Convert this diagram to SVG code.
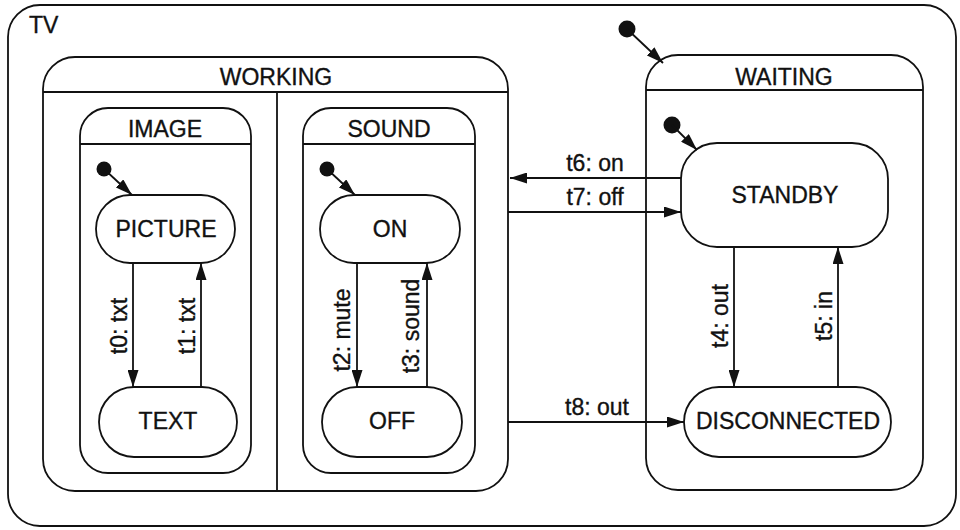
<svg xmlns="http://www.w3.org/2000/svg" width="960" height="530" viewBox="0 0 960 530">
<defs>
<marker id="ah" viewBox="0 0 17 11" refX="17" refY="5.5" markerWidth="17" markerHeight="11" markerUnits="userSpaceOnUse" orient="auto">
<path d="M0,0 L17,5.5 L0,11 Z" fill="#111"/>
</marker>
<style>
.box{fill:none;stroke:#111;stroke-width:1.8}
.ln{fill:none;stroke:#111;stroke-width:1.8}
.ar{fill:none;stroke:#111;stroke-width:1.8;marker-end:url(#ah)}
.dot{fill:#111}
text{font-family:"Liberation Sans",Arial,sans-serif;font-size:23px;fill:#111;stroke:#111;stroke-width:0.35}
.c{text-anchor:middle}
</style>
</defs>
<rect width="960" height="530" fill="#fff"/>
<g id="TV">
<rect class="box" x="8" y="5" width="948" height="521" rx="32"/>
<text x="29" y="33">TV</text>
</g>
<g id="WORKING">
<rect class="box" x="43" y="57" width="465" height="434" rx="32"/>
<line class="ln" x1="43" y1="92" x2="508" y2="92"/>
<line class="ln" x1="277" y1="92" x2="277" y2="491"/>
<text class="c" x="276" y="85">WORKING</text>
</g>
<g id="IMAGE">
<rect class="box" x="80" y="108" width="171" height="365" rx="28"/>
<line class="ln" x1="80" y1="144" x2="251" y2="144"/>
<text class="c" x="165" y="137">IMAGE</text>
<circle class="dot" cx="104" cy="169" r="7.5"/>
</g>
<g id="PICTURE">
<rect class="box" x="96" y="195" width="139" height="68" rx="34"/>
<text class="c" x="166" y="237">PICTURE</text>
</g>
<g id="TEXT">
<rect class="box" x="99" y="387" width="138" height="70" rx="35"/>
<text class="c" x="168" y="429">TEXT</text>
</g>
<g id="SOUND">
<rect class="box" x="303" y="108" width="172" height="365" rx="28"/>
<line class="ln" x1="303" y1="144" x2="475" y2="144"/>
<text class="c" x="389" y="137">SOUND</text>
<circle class="dot" cx="327" cy="169" r="7.5"/>
</g>
<g id="ON">
<rect class="box" x="320" y="195" width="140" height="68" rx="34"/>
<text class="c" x="390" y="237">ON</text>
</g>
<g id="OFF">
<rect class="box" x="322" y="387" width="140" height="70" rx="35"/>
<text class="c" x="392" y="429">OFF</text>
</g>
<g id="WAITING">
<rect class="box" x="646" y="55" width="277" height="435" rx="32"/>
<line class="ln" x1="646" y1="90" x2="923" y2="90"/>
<text class="c" x="784" y="85">WAITING</text>
<circle class="dot" cx="627" cy="29" r="8.5"/>
<circle class="dot" cx="672" cy="125" r="8.5"/>
</g>
<g id="STANDBY">
<rect class="box" x="681" y="143" width="207" height="104" rx="36"/>
<text class="c" x="785" y="203">STANDBY</text>
</g>
<g id="DISCONNECTED">
<rect class="box" x="684" y="387" width="207" height="70" rx="35"/>
<text class="c" x="788" y="429">DISCONNECTED</text>
</g>
<g id="connectors">
<line class="ar" x1="104" y1="169" x2="132" y2="195"/>
<line class="ar" x1="327" y1="169" x2="355" y2="195"/>
<line class="ar" x1="627" y1="29" x2="663" y2="63"/>
<line class="ar" x1="672" y1="125" x2="697" y2="150"/>
<line class="ar" x1="133" y1="263" x2="133" y2="387"/>
<line class="ar" x1="201" y1="387" x2="201" y2="263"/>
<line class="ar" x1="357" y1="263" x2="357" y2="387"/>
<line class="ar" x1="427" y1="387" x2="427" y2="263"/>
<line class="ar" x1="734" y1="247" x2="734" y2="387"/>
<line class="ar" x1="838" y1="387" x2="838" y2="247"/>
<line class="ar" x1="681" y1="178" x2="510" y2="178"/>
<line class="ar" x1="508" y1="212" x2="681" y2="212"/>
<line class="ar" x1="508" y1="422" x2="684" y2="422"/>
<text class="c" transform="translate(127,326) rotate(-90)">t0: txt</text>
<text class="c" transform="translate(195,326) rotate(-90)">t1: txt</text>
<text class="c" transform="translate(350,330) rotate(-90)">t2: mute</text>
<text class="c" transform="translate(419,326) rotate(-90)">t3: sound</text>
<text class="c" transform="translate(728,316) rotate(-90)">t4: out</text>
<text class="c" transform="translate(832,316) rotate(-90)">t5: in</text>
<text class="c" x="595" y="171">t6: on</text>
<text class="c" x="595" y="205">t7: off</text>
<text class="c" x="597" y="415">t8: out</text>
</g>
</svg>
